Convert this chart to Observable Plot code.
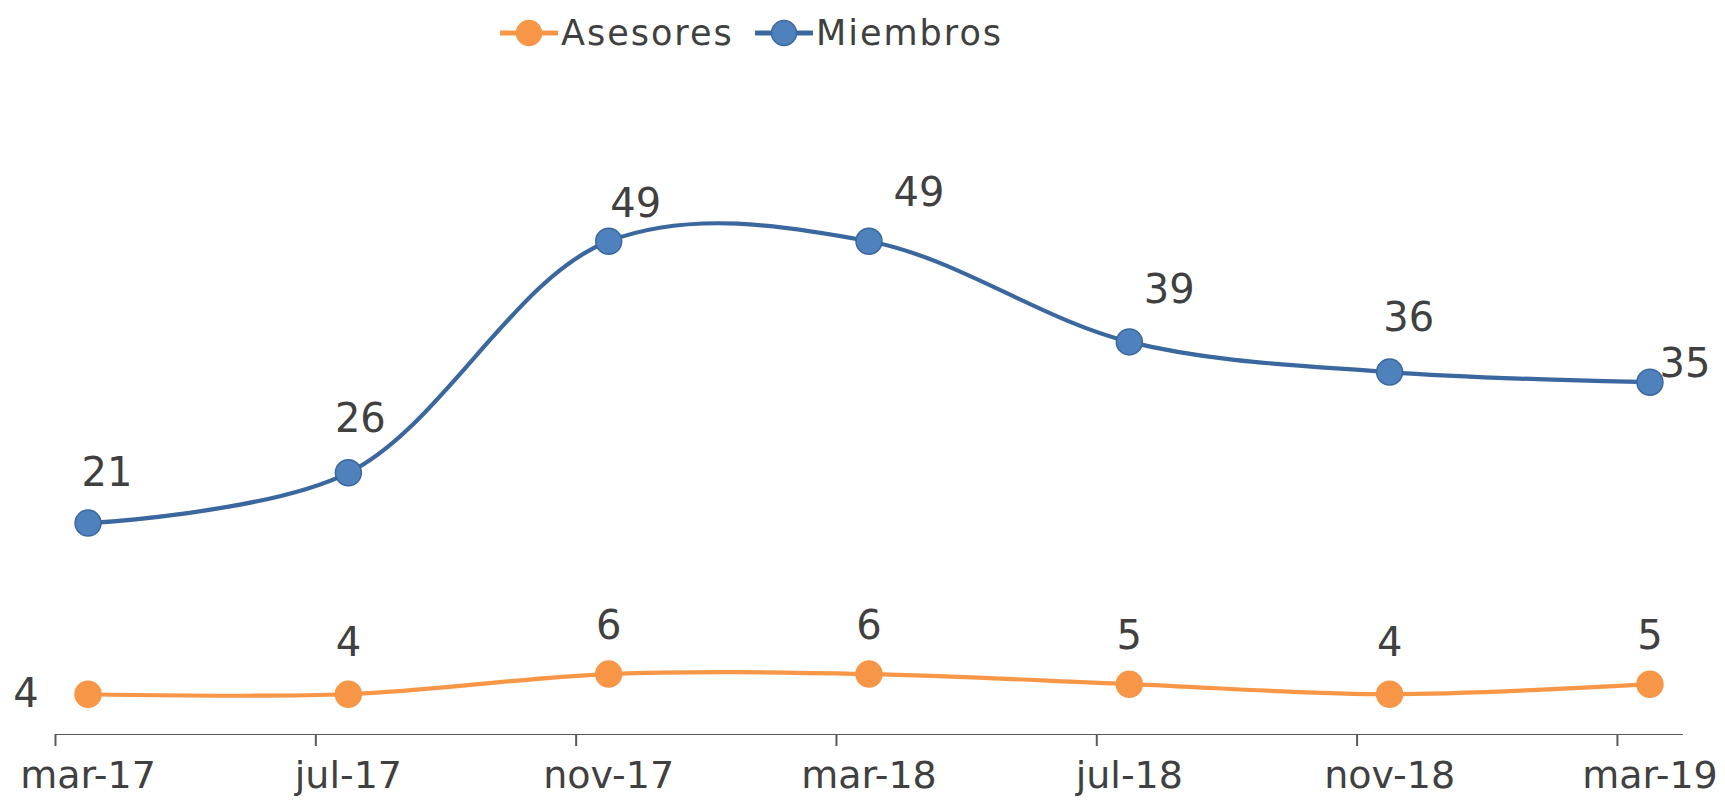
<!DOCTYPE html>
<html>
<head>
<meta charset="utf-8">
<script src="https://cdn.jsdelivr.net/npm/d3@7"></script>
<script src="https://cdn.jsdelivr.net/npm/@observablehq/plot@0.6"></script>
<style>
  html, body { margin: 0; padding: 0; background: #fff; }
  body { width: 1725px; height: 811px; overflow: hidden; font-family: "DejaVu Sans", sans-serif; color: #404040; }
  #legend { position: relative; height: 66px; }
  .item { position: absolute; top: 13px; display: flex; align-items: center; font-size: 35px; letter-spacing: 2px; line-height: 40px; }
  .item svg { margin-right: 3px; }
</style>
</head>
<body>
<div id="legend"></div>
<div id="chart"></div>
<script>
// ---- data ----
const categories = ["mar-17", "jul-17", "nov-17", "mar-18", "jul-18", "nov-18", "mar-19"];
const monthIndex = [0.5, 4.5, 8.5, 12.5, 16.5, 20.5, 24.5]; // month slot centers (date axis)
const tickMonths = [0, 4, 8, 12, 16, 20, 24];
const asesores = [4, 4, 6, 6, 5, 4, 5];
const miembros = [21, 26, 49, 49, 39, 36, 35];
const seriesNames = ["Asesores", "Miembros"];

// ---- layout (label placement, as in the original) ----
const labelOffsets = {
  Asesores: {dx: [-62, 0, 0, 0, 0, 0, 0], dy: [0, -51, -48, -48, -48, -51, -48]},
  Miembros: {dx: [19, 12, 27, 50, 40, 19, 35], dy: [-50, -54, -37, -48, -52, -54, -18]}
};
const colors = {
  Asesores: {line: "#F79646", fill: "#F79646", stroke: "#F79646"},
  Miembros: {line: "#3A679E", fill: "#4F81BD", stroke: "#3A679E"}
};

const rows = [];
categories.forEach((c, i) => {
  rows.push({series: "Asesores", cat: c, m: monthIndex[i], v: asesores[i], i});
  rows.push({series: "Miembros", cat: c, m: monthIndex[i], v: miembros[i], i});
});

// ---- legend ----
const legend = document.getElementById("legend");
const legendLeft = {Asesores: 500, Miembros: 755};
seriesNames.forEach(s => {
  const div = document.createElement("div");
  div.className = "item";
  div.style.left = legendLeft[s] + "px";
  div.innerHTML = `<svg width="58" height="30"><line x1="1" x2="57" y1="15" y2="15" stroke="${colors[s].line}" stroke-width="5" stroke-linecap="round"/><circle cx="29" cy="15" r="12.5" fill="${colors[s].fill}" stroke="${colors[s].stroke}" stroke-width="1.5"/></svg><span>${s}</span>`;
  legend.appendChild(div);
});

// ---- chart ----
const marks = [];
seriesNames.forEach(s => {
  const d = rows.filter(r => r.series === s);
  marks.push(Plot.line(d, {x: "m", y: "v", stroke: colors[s].line, strokeWidth: 4.2, curve: "catmull-rom"}));
});
seriesNames.forEach(s => {
  const d = rows.filter(r => r.series === s);
  marks.push(Plot.dot(d, {x: "m", y: "v", r: 13, fill: colors[s].fill, stroke: colors[s].stroke, strokeWidth: 1.5}));
});
seriesNames.forEach(s => {
  rows.filter(r => r.series === s).forEach(r => {
    marks.push(Plot.text([r], {
      x: "m", y: "v", text: d => String(d.v),
      dx: labelOffsets[s].dx[r.i], dy: labelOffsets[s].dy[r.i],
      fontSize: 40, fill: "#404040", fontFamily: "DejaVu Sans", style: "letter-spacing:-2px"
    }));
  });
});
// category labels under the points
marks.push(Plot.text(categories.map((c, i) => ({c, m: monthIndex[i]})), {
  x: "m", text: "c", frameAnchor: "bottom", dy: 53, fontSize: 38, fill: "#404040", fontFamily: "DejaVu Sans"
}));

const chart = Plot.plot({
  width: 1725,
  height: 745,
  marginLeft: 55,
  marginRight: 43,
  marginTop: 64,
  marginBottom: 77,
  style: {background: "#fff", color: "#595959", overflow: "visible", fontFamily: "DejaVu Sans"},
  x: {domain: [0, 25], ticks: tickMonths, tickSize: 12, tickFormat: () => "", line: true, label: null},
  y: {domain: [0, 60], axis: null},
  marks
});
chart.querySelectorAll('g[aria-label^="x-axis"] path, g[aria-label^="x-axis"] line, g[aria-label^="x-axis"]').forEach(p => {
  p.setAttribute("stroke-width", "2");
  p.setAttribute("stroke", "#595959");
  p.setAttribute("stroke-opacity", "1");
});
document.getElementById("chart").appendChild(chart);
</script>
</body>
</html>
